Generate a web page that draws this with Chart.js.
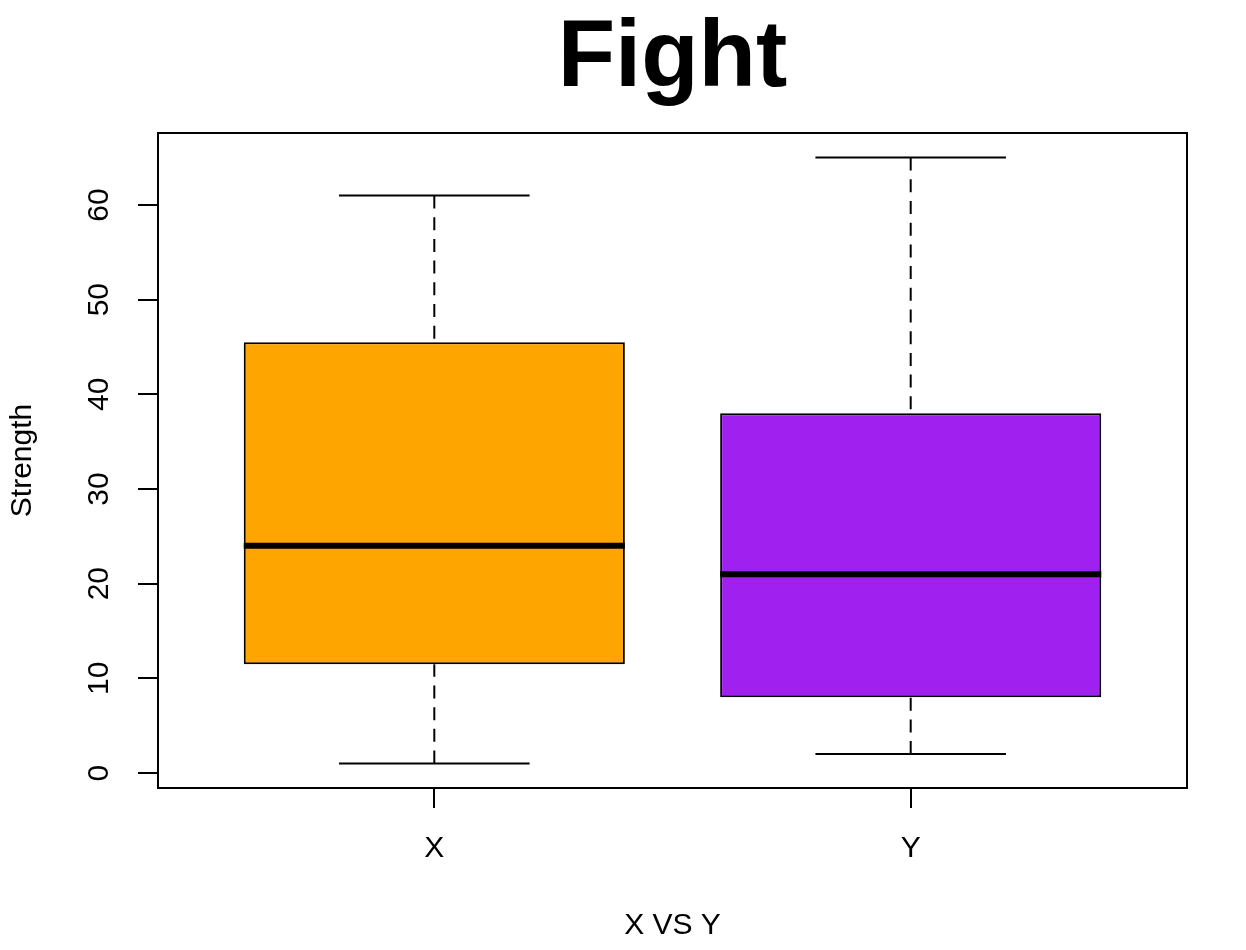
<!DOCTYPE html>
<html>
<head>
<meta charset="utf-8">
<script src="https://cdn.jsdelivr.net/npm/chart.js@4"></script>
<style>
  body { margin: 0; background: #fff; }
  canvas { display: block; }
</style>
</head>
<body>
<canvas id="chart-fight" width="1246" height="950"></canvas>
<script>
const categories = [`X`, `Y`];
const whiskerLow = [1, 2];
const quartileLow = [11.5, 8];
const medians = [24, 21];
const quartileHigh = [45.5, 38];
const whiskerHigh = [61, 65];
const boxColors = [`#FFA500`, `#A020F0`];
const yTicks = [0, 10, 20, 30, 40, 50, 60];

const fontFamily = `'Liberation Sans', Arial, Helvetica, sans-serif`;

// whiskers, staples, medians and the frame round the plot, R style
const boxplotExtras = {
  id: `boxplotExtras`,
  afterLayout(chart) {
    // R centres the main title over the plot region, not the whole device
    if (chart.titleBlock) {
      chart.titleBlock.left = chart.chartArea.left;
      chart.titleBlock.right = chart.chartArea.right;
    }
  },
  afterDatasetsDraw(chart) {
    const { ctx, chartArea, scales: { x, y } } = chart;
    ctx.save();
    ctx.strokeStyle = `#000`;
    categories.forEach((cat, i) => {
      const pos = i + 1;
      const xc = x.getPixelForValue(pos);
      const boxHalf = x.getPixelForValue(pos + 0.4) - xc;
      const capHalf = x.getPixelForValue(pos + 0.2) - xc;

      // dashed whiskers, drawn from the extreme toward the box
      ctx.lineWidth = 2;
      ctx.setLineDash([13, 8.7]);
      ctx.beginPath();
      ctx.moveTo(xc, y.getPixelForValue(whiskerHigh[i]));
      ctx.lineTo(xc, y.getPixelForValue(quartileHigh[i]));
      ctx.moveTo(xc, y.getPixelForValue(whiskerLow[i]));
      ctx.lineTo(xc, y.getPixelForValue(quartileLow[i]));
      ctx.stroke();
      ctx.setLineDash([]);

      // staples
      ctx.beginPath();
      [whiskerHigh[i], whiskerLow[i]].forEach(v => {
        const yy = y.getPixelForValue(v);
        ctx.moveTo(xc - capHalf, yy);
        ctx.lineTo(xc + capHalf, yy);
      });
      ctx.stroke();

      // median
      ctx.lineWidth = 6;
      ctx.beginPath();
      const ym = y.getPixelForValue(medians[i]);
      ctx.moveTo(xc - boxHalf, ym);
      ctx.lineTo(xc + boxHalf, ym);
      ctx.stroke();
    });

    ctx.lineWidth = 2;
    ctx.strokeRect(chartArea.left, chartArea.top, chartArea.right - chartArea.left, chartArea.bottom - chartArea.top);
    ctx.restore();
  }
};

const fight = document.getElementById(`chart-fight`);
new Chart(fight, {
  type: `bar`,
  data: {
    datasets: [
      {
        data: categories.map((c, i) => ({ x: i + 1, y: [quartileLow[i], quartileHigh[i]] })),
        backgroundColor: boxColors,
        borderColor: `#000`,
        borderWidth: 2,
        borderSkipped: false,
        barPercentage: 0.8,
        categoryPercentage: 1
      }
    ]
  },
  options: {
    responsive: false,
    animation: false,
    devicePixelRatio: 1,
    layout: { padding: { left: 0, right: 59, top: 0, bottom: 0 } },
    plugins: {
      legend: { display: false },
      tooltip: { enabled: false },
      title: {
        display: true,
        text: `Fight`,
        color: `#000`,
        font: { family: fontFamily, size: 94, weight: `bold`, lineHeight: 1 },
        padding: { top: 13, bottom: 26 }
      }
    },
    scales: {
      x: {
        type: `linear`,
        offset: false,
        min: 0.42,
        max: 2.58,
        afterBuildTicks: scale => { scale.ticks = categories.map((c, i) => ({ value: i + 1 })); },
        afterFit: scale => { scale.height = 162; },
        ticks: {
          color: `#000`,
          padding: 23,
          font: { family: fontFamily, size: 30 },
          callback: v => categories[v - 1]
        },
        grid: { display: true, offset: false, drawOnChartArea: false, drawTicks: true, tickLength: 20, color: `#000`, lineWidth: 2 },
        border: { display: false },
        title: {
          display: true,
          text: `X VS Y`,
          color: `#000`,
          font: { family: fontFamily, size: 30 },
          padding: { top: 0, bottom: 6 }
        }
      },
      y: {
        type: `linear`,
        min: -1.58,
        max: 67.6,
        afterBuildTicks: scale => { scale.ticks = yTicks.map(v => ({ value: v })); },
        afterFit: scale => { scale.width = 158; },
        ticks: {
          color: `#000`,
          padding: 22,
          minRotation: 90,
          maxRotation: 90,
          crossAlign: `center`,
          font: { family: fontFamily, size: 30 }
        },
        grid: { display: true, drawOnChartArea: false, drawTicks: true, tickLength: 20, color: `#000`, lineWidth: 2 },
        border: { display: false },
        title: {
          display: true,
          text: `Strength`,
          color: `#000`,
          font: { family: fontFamily, size: 30 },
          padding: { top: 5, bottom: 0 }
        }
      }
    }
  },
  plugins: [boxplotExtras]
});
</script>
</body>
</html>
